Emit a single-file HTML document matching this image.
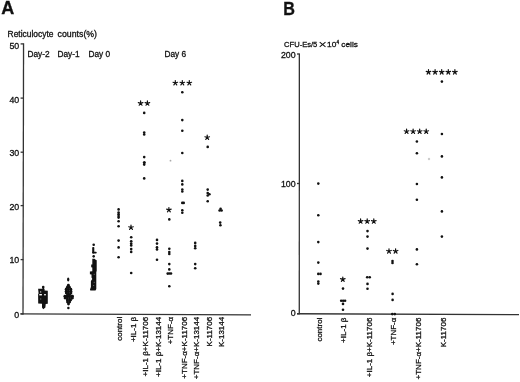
<!DOCTYPE html>
<html><head><meta charset="utf-8"><style>
html,body{margin:0;padding:0;background:#fff;}
body{width:520px;height:382px;overflow:hidden;}
svg{display:block;filter:grayscale(1);font-family:"Liberation Sans",sans-serif;fill:#111;}
text{stroke:#111;stroke-width:0.3px;}
</style></head><body>
<svg width="520" height="382" viewBox="0 0 520 382">
<rect width="520" height="382" fill="#fff"/>
<text x="1.2" y="13.8" font-size="18" text-anchor="start" font-weight="bold">A</text>
<text x="7.6" y="36.7" font-size="8.6" textLength="45.8" lengthAdjust="spacingAndGlyphs">Reticulocyte</text>
<text x="57.6" y="36.7" font-size="8.6" textLength="39.4" lengthAdjust="spacingAndGlyphs">counts(%)</text>
<line x1="23.55" y1="43.2" x2="23.0" y2="314.6" stroke="#333" stroke-width="1.3"/>
<line x1="20.4" y1="313.9" x2="251" y2="314.8" stroke="#333" stroke-width="1.3"/>
<line x1="20.6" y1="313.9" x2="23.4" y2="313.9" stroke="#333" stroke-width="1.3"/>
<text x="19.2" y="317.5" font-size="8.8" text-anchor="end" >0</text>
<line x1="20.6" y1="259.6" x2="23.4" y2="259.6" stroke="#333" stroke-width="1.3"/>
<text x="19.2" y="263.3" font-size="8.8" text-anchor="end" >10</text>
<line x1="20.6" y1="205.6" x2="23.4" y2="205.6" stroke="#333" stroke-width="1.3"/>
<text x="19.2" y="209.5" font-size="8.8" text-anchor="end" >20</text>
<line x1="20.6" y1="152.2" x2="23.4" y2="152.2" stroke="#333" stroke-width="1.3"/>
<text x="19.2" y="156.2" font-size="8.8" text-anchor="end" >30</text>
<line x1="20.6" y1="98.1" x2="23.4" y2="98.1" stroke="#333" stroke-width="1.3"/>
<text x="19.2" y="102.7" font-size="8.8" text-anchor="end" >40</text>
<line x1="20.6" y1="43.9" x2="23.4" y2="43.9" stroke="#333" stroke-width="1.3"/>
<text x="19.2" y="48.5" font-size="8.8" text-anchor="end" >50</text>
<text x="27.5" y="57" font-size="8.3" text-anchor="start" >Day-2</text>
<text x="57.5" y="57" font-size="8.3" text-anchor="start" >Day-1</text>
<text x="88.5" y="57" font-size="8.3" text-anchor="start" >Day 0</text>
<text x="164.5" y="57" font-size="8.3" text-anchor="start" >Day 6</text>
<text transform="translate(122.1,316.8) rotate(-90)" font-size="8" text-anchor="end">control</text>
<text transform="translate(135.5,316.8) rotate(-90)" font-size="8" text-anchor="end">+IL-1 β</text>
<text transform="translate(148.1,316.8) rotate(-90)" font-size="8" text-anchor="end">+IL-1 β+K-11706</text>
<text transform="translate(160.9,316.8) rotate(-90)" font-size="8" text-anchor="end">+IL-1 β+K-13144</text>
<text transform="translate(173.4,316.8) rotate(-90)" font-size="8" text-anchor="end">+TNF-α</text>
<text transform="translate(186.5,316.8) rotate(-90)" font-size="8" text-anchor="end">+TNF-α+K-11706</text>
<text transform="translate(199.4,316.8) rotate(-90)" font-size="8" text-anchor="end">+TNF-α+K-13144</text>
<text transform="translate(212.3,316.8) rotate(-90)" font-size="8" text-anchor="end">K-11706</text>
<text transform="translate(224.0,316.8) rotate(-90)" font-size="8" text-anchor="end">K-13144</text>
<g id="clusters">
<circle cx="43.2" cy="287.0" r="1.3"/>
<rect x="42.4" y="287" width="1.7" height="2.5"/>
<polygon points="38.1,288.7 44.5,288.7 44.6,290.4 47.8,290.7 47.8,303.8 45.7,304 45.4,307.5 43.2,309.3 42,307.5 42,303.7 38.2,303.5 38.1,294 38.6,293.5"/>
<rect x="39.3" y="294" width="2.6" height="1.4" fill="#fff"/>
<rect x="44.2" y="294" width="1.6" height="1.4" fill="#fff"/>
<circle cx="40.7" cy="291.9" r="0.6" fill="#fff"/>
<circle cx="40.7" cy="299" r="0.7" fill="#666"/>
<ellipse cx="68.2" cy="279.6" rx="1.15" ry="2"/>
<circle cx="68.4" cy="285.2" r="1.45"/>
<circle cx="67.4" cy="287.3" r="1.45"/>
<circle cx="69.4" cy="287.3" r="1.45"/>
<circle cx="66.2" cy="289.3" r="1.45"/>
<circle cx="68.4" cy="289.3" r="1.45"/>
<circle cx="70.8" cy="289.3" r="1.45"/>
<circle cx="66.2" cy="291.3" r="1.45"/>
<circle cx="68.4" cy="291.3" r="1.45"/>
<circle cx="70.9" cy="291.3" r="1.45"/>
<circle cx="66.3" cy="293.0" r="1.45"/>
<circle cx="68.4" cy="293.0" r="1.45"/>
<circle cx="70.9" cy="293.0" r="1.45"/>
<circle cx="67.6" cy="294.6" r="1.45"/>
<circle cx="69.6" cy="294.6" r="1.45"/>
<circle cx="64.9" cy="296.2" r="1.45"/>
<circle cx="67.1" cy="296.2" r="1.45"/>
<circle cx="69.3" cy="296.2" r="1.45"/>
<circle cx="71.5" cy="296.2" r="1.45"/>
<circle cx="72.5" cy="296.2" r="1.45"/>
<circle cx="65.1" cy="298.1" r="1.45"/>
<circle cx="67.3" cy="298.1" r="1.45"/>
<circle cx="69.5" cy="298.1" r="1.45"/>
<circle cx="71.7" cy="298.1" r="1.45"/>
<circle cx="72.4" cy="298.1" r="1.45"/>
<circle cx="67.3" cy="300.1" r="1.45"/>
<circle cx="69.4" cy="300.1" r="1.45"/>
<circle cx="70.6" cy="300.1" r="1.45"/>
<circle cx="67.5" cy="302.0" r="1.45"/>
<circle cx="69.6" cy="302.0" r="1.45"/>
<circle cx="68.5" cy="304.0" r="1.45"/>
<circle cx="68.4" cy="308.1" r="1.25"/>
<circle cx="93.7" cy="244.7" r="1.3"/>
<rect x="92.2" y="247" width="2.1" height="6.5" rx="0.8"/>
<rect x="92.2" y="251.7" width="4.5" height="1.8" rx="0.8"/>
<ellipse cx="93.7" cy="256.3" rx="1.25" ry="1.4"/>
<polygon points="92.3,258.8 94.5,258.8 95.3,259.6 96.7,260.2 96.7,271 96.3,272 96.3,289 95.5,290.6 90.3,290.6 90,289.5 90.9,287 90.9,281 91.6,280 92.3,279 91.5,277.5 91.5,274.5 89.9,274.2 89.9,271.6 92.3,271.2 92.3,267.4 91.2,267.2 91.2,264.6 92.3,264.4"/>
<circle cx="94.2" cy="274.3" r="0.5" fill="#888"/>
<circle cx="94.2" cy="282.3" r="0.5" fill="#888"/>
<circle cx="93.7" cy="285.6" r="0.5" fill="#888"/>
</g>
<circle cx="118.6" cy="209.4" r="1.3"/>
<circle cx="118.6" cy="212.6" r="1.3"/>
<circle cx="118.6" cy="214.3" r="1.3"/>
<circle cx="118.6" cy="216.0" r="1.3"/>
<circle cx="118.6" cy="217.6" r="1.3"/>
<circle cx="118.6" cy="221.3" r="1.3"/>
<circle cx="118.6" cy="226.3" r="1.3"/>
<circle cx="118.6" cy="240.6" r="1.3"/>
<circle cx="118.6" cy="247.4" r="1.3"/>
<circle cx="118.6" cy="257.3" r="1.3"/>
<circle cx="131.2" cy="237.3" r="1.3"/>
<circle cx="131.2" cy="241.2" r="1.3"/>
<circle cx="131.2" cy="243.6" r="1.3"/>
<circle cx="131.2" cy="245.4" r="1.3"/>
<circle cx="131.2" cy="249.1" r="1.3"/>
<circle cx="131.2" cy="251.9" r="1.3"/>
<circle cx="131.2" cy="273.0" r="1.3"/>
<path d="M131.00,227.50L131.00,225.10M131.00,227.50L133.28,226.76M131.00,227.50L132.41,229.44M131.00,227.50L129.59,229.44M131.00,227.50L128.72,226.76" stroke="#111" stroke-width="1.2" stroke-linecap="round" fill="none"/>
<circle cx="131.00" cy="227.50" r="0.95"/>
<circle cx="144.2" cy="112.9" r="1.3"/>
<circle cx="144.2" cy="132.6" r="1.3"/>
<circle cx="144.2" cy="134.5" r="1.3"/>
<circle cx="144.2" cy="157.1" r="1.3"/>
<circle cx="144.2" cy="164.6" r="1.3"/>
<circle cx="144.2" cy="178.4" r="1.3"/>
<circle cx="144.3" cy="162.6" r="1.5"/>
<path d="M140.60,103.30L140.60,100.90M140.60,103.30L142.88,102.56M140.60,103.30L142.01,105.24M140.60,103.30L139.19,105.24M140.60,103.30L138.32,102.56" stroke="#111" stroke-width="1.2" stroke-linecap="round" fill="none"/>
<circle cx="140.60" cy="103.30" r="0.95"/>
<path d="M147.40,103.30L147.40,100.90M147.40,103.30L149.68,102.56M147.40,103.30L148.81,105.24M147.40,103.30L145.99,105.24M147.40,103.30L145.12,102.56" stroke="#111" stroke-width="1.2" stroke-linecap="round" fill="none"/>
<circle cx="147.40" cy="103.30" r="0.95"/>
<circle cx="157.0" cy="239.9" r="1.3"/>
<circle cx="157.0" cy="243.6" r="1.3"/>
<circle cx="157.0" cy="247.2" r="1.3"/>
<circle cx="157.0" cy="249.4" r="1.3"/>
<circle cx="157.0" cy="259.7" r="1.3"/>
<circle cx="169.3" cy="219.4" r="1.3"/>
<circle cx="169.3" cy="248.7" r="1.3"/>
<circle cx="169.3" cy="252.0" r="1.3"/>
<circle cx="169.3" cy="254.0" r="1.3"/>
<circle cx="169.3" cy="264.1" r="1.3"/>
<circle cx="169.3" cy="269.4" r="1.3"/>
<circle cx="169.3" cy="273.5" r="1.3"/>
<circle cx="169.3" cy="286.3" r="1.3"/>
<circle cx="167.7" cy="273.6" r="1.3"/>
<circle cx="171.0" cy="273.5" r="1.3"/>
<path d="M168.90,209.90L168.90,207.50M168.90,209.90L171.18,209.16M168.90,209.90L170.31,211.84M168.90,209.90L167.49,211.84M168.90,209.90L166.62,209.16" stroke="#111" stroke-width="1.2" stroke-linecap="round" fill="none"/>
<circle cx="168.90" cy="209.90" r="0.95"/>
<circle cx="182.3" cy="92.2" r="1.3"/>
<circle cx="182.3" cy="120.1" r="1.3"/>
<circle cx="182.3" cy="130.8" r="1.3"/>
<circle cx="182.3" cy="153.0" r="1.3"/>
<circle cx="182.3" cy="180.9" r="1.3"/>
<circle cx="182.3" cy="184.4" r="1.3"/>
<circle cx="182.3" cy="189.5" r="1.3"/>
<circle cx="182.3" cy="191.5" r="1.3"/>
<circle cx="182.3" cy="210.2" r="1.3"/>
<circle cx="182.3" cy="212.8" r="1.3"/>
<circle cx="182.3" cy="202.9" r="1.3"/>
<circle cx="183.7" cy="202.9" r="1.3"/>
<path d="M175.30,83.00L175.30,80.60M175.30,83.00L177.58,82.26M175.30,83.00L176.71,84.94M175.30,83.00L173.89,84.94M175.30,83.00L173.02,82.26" stroke="#111" stroke-width="1.2" stroke-linecap="round" fill="none"/>
<circle cx="175.30" cy="83.00" r="0.95"/>
<path d="M182.30,83.00L182.30,80.60M182.30,83.00L184.58,82.26M182.30,83.00L183.71,84.94M182.30,83.00L180.89,84.94M182.30,83.00L180.02,82.26" stroke="#111" stroke-width="1.2" stroke-linecap="round" fill="none"/>
<circle cx="182.30" cy="83.00" r="0.95"/>
<path d="M189.30,83.00L189.30,80.60M189.30,83.00L191.58,82.26M189.30,83.00L190.71,84.94M189.30,83.00L187.89,84.94M189.30,83.00L187.02,82.26" stroke="#111" stroke-width="1.2" stroke-linecap="round" fill="none"/>
<circle cx="189.30" cy="83.00" r="0.95"/>
<circle cx="195.2" cy="242.9" r="1.3"/>
<circle cx="195.2" cy="245.9" r="1.3"/>
<circle cx="195.2" cy="248.2" r="1.3"/>
<circle cx="195.2" cy="264.1" r="1.3"/>
<circle cx="195.2" cy="268.2" r="1.3"/>
<circle cx="207.7" cy="146.9" r="1.3"/>
<circle cx="207.7" cy="189.6" r="1.3"/>
<circle cx="207.7" cy="193.0" r="1.3"/>
<circle cx="207.7" cy="195.5" r="1.3"/>
<circle cx="207.7" cy="201.3" r="1.3"/>
<circle cx="209.4" cy="194.2" r="1.3"/>
<path d="M207.20,137.50L207.20,135.10M207.20,137.50L209.48,136.76M207.20,137.50L208.61,139.44M207.20,137.50L205.79,139.44M207.20,137.50L204.92,136.76" stroke="#111" stroke-width="1.2" stroke-linecap="round" fill="none"/>
<circle cx="207.20" cy="137.50" r="0.95"/>
<circle cx="219.6" cy="210.5" r="1.3"/>
<circle cx="221.6" cy="210.5" r="1.3"/>
<circle cx="220.6" cy="208.8" r="1.3"/>
<circle cx="220.2" cy="222.6" r="1.3"/>
<circle cx="220.4" cy="225.2" r="1.3"/>
<text transform="translate(283.2,14.5) scale(0.92,1)" font-size="17.6" font-weight="bold">B</text>
<text x="284.1" y="47" font-size="8.1" textLength="33.2" lengthAdjust="spacingAndGlyphs">CFU-Es/5</text>
<path d="M319.7,42.2L325.5,46.8M325.5,42.2L319.7,46.8" stroke="#111" stroke-width="1.05" fill="none"/>
<text x="327" y="47" font-size="8.1" textLength="9.3" lengthAdjust="spacingAndGlyphs">10</text>
<text x="336.6" y="43.8" font-size="4.6">4</text>
<text x="341.3" y="47" font-size="8.1" textLength="16.6" lengthAdjust="spacingAndGlyphs">cells</text>
<line x1="299.35" y1="53.4" x2="299.3" y2="314.2" stroke="#333" stroke-width="1.3"/>
<line x1="297" y1="313.75" x2="519" y2="314.6" stroke="#333" stroke-width="1.3"/>
<line x1="297.0" y1="54" x2="299.4" y2="54" stroke="#333" stroke-width="1.3"/>
<text x="295.6" y="57.5" font-size="8.8" text-anchor="end" >200</text>
<line x1="297.0" y1="183.5" x2="299.4" y2="183.5" stroke="#333" stroke-width="1.3"/>
<text x="295.6" y="187.1" font-size="8.8" text-anchor="end" >100</text>
<line x1="297.0" y1="313.75" x2="299.4" y2="313.75" stroke="#333" stroke-width="1.3"/>
<text x="295.6" y="315.7" font-size="8.8" text-anchor="end" >0</text>
<text transform="translate(322.2,317.6) rotate(-90)" font-size="8" text-anchor="end">control</text>
<text transform="translate(346.0,317.6) rotate(-90)" font-size="8" text-anchor="end">+IL-1 β</text>
<text transform="translate(371.8,317.6) rotate(-90)" font-size="8" text-anchor="end">+IL-1 β+K-11706</text>
<text transform="translate(396.2,317.6) rotate(-90)" font-size="8" text-anchor="end">+TNF-α</text>
<text transform="translate(421.2,317.6) rotate(-90)" font-size="8" text-anchor="end">+TNF-α+K-11706</text>
<text transform="translate(446.1,317.6) rotate(-90)" font-size="8" text-anchor="end">K-11706</text>
<circle cx="318.3" cy="183.6" r="1.3"/>
<circle cx="318.3" cy="215.2" r="1.3"/>
<circle cx="318.3" cy="242.1" r="1.3"/>
<circle cx="318.3" cy="262.6" r="1.3"/>
<circle cx="318.3" cy="281.5" r="1.3"/>
<circle cx="318.3" cy="283.6" r="1.3"/>
<circle cx="318.3" cy="273.9" r="1.3"/>
<circle cx="320.5" cy="273.9" r="1.3"/>
<path d="M342.80,279.40L342.80,277.00M342.80,279.40L345.08,278.66M342.80,279.40L344.21,281.34M342.80,279.40L341.39,281.34M342.80,279.40L340.52,278.66" stroke="#111" stroke-width="1.2" stroke-linecap="round" fill="none"/>
<circle cx="342.80" cy="279.40" r="0.95"/>
<circle cx="343.0" cy="288.6" r="1.3"/>
<circle cx="343.0" cy="303.9" r="1.3"/>
<circle cx="343.0" cy="309.7" r="1.3"/>
<circle cx="341.2" cy="300.8" r="1.3"/>
<circle cx="343.2" cy="300.8" r="1.3"/>
<circle cx="345.1" cy="300.8" r="1.3"/>
<path d="M360.60,221.30L360.60,218.90M360.60,221.30L362.88,220.56M360.60,221.30L362.01,223.24M360.60,221.30L359.19,223.24M360.60,221.30L358.32,220.56" stroke="#111" stroke-width="1.2" stroke-linecap="round" fill="none"/>
<circle cx="360.60" cy="221.30" r="0.95"/>
<path d="M367.20,221.30L367.20,218.90M367.20,221.30L369.48,220.56M367.20,221.30L368.61,223.24M367.20,221.30L365.79,223.24M367.20,221.30L364.92,220.56" stroke="#111" stroke-width="1.2" stroke-linecap="round" fill="none"/>
<circle cx="367.20" cy="221.30" r="0.95"/>
<path d="M373.80,221.30L373.80,218.90M373.80,221.30L376.08,220.56M373.80,221.30L375.21,223.24M373.80,221.30L372.39,223.24M373.80,221.30L371.52,220.56" stroke="#111" stroke-width="1.2" stroke-linecap="round" fill="none"/>
<circle cx="373.80" cy="221.30" r="0.95"/>
<circle cx="367.5" cy="231.1" r="1.3"/>
<circle cx="367.5" cy="236.6" r="1.3"/>
<circle cx="367.5" cy="248.6" r="1.3"/>
<circle cx="367.5" cy="283.9" r="1.3"/>
<circle cx="367.5" cy="288.7" r="1.3"/>
<circle cx="367.2" cy="277.2" r="1.3"/>
<circle cx="369.7" cy="277.2" r="1.3"/>
<path d="M389.00,251.20L389.00,248.80M389.00,251.20L391.28,250.46M389.00,251.20L390.41,253.14M389.00,251.20L387.59,253.14M389.00,251.20L386.72,250.46" stroke="#111" stroke-width="1.2" stroke-linecap="round" fill="none"/>
<circle cx="389.00" cy="251.20" r="0.95"/>
<path d="M395.60,251.20L395.60,248.80M395.60,251.20L397.88,250.46M395.60,251.20L397.01,253.14M395.60,251.20L394.19,253.14M395.60,251.20L393.32,250.46" stroke="#111" stroke-width="1.2" stroke-linecap="round" fill="none"/>
<circle cx="395.60" cy="251.20" r="0.95"/>
<circle cx="392.5" cy="261.0" r="1.3"/>
<circle cx="392.5" cy="263.0" r="1.3"/>
<circle cx="392.6" cy="293.9" r="1.3"/>
<circle cx="392.6" cy="299.9" r="1.3"/>
<circle cx="392.3" cy="314.1" r="1.3"/>
<circle cx="394.8" cy="314.1" r="1.3"/>
<path d="M406.57,131.50L406.57,129.10M406.57,131.50L408.86,130.76M406.57,131.50L407.99,133.44M406.57,131.50L405.16,133.44M406.57,131.50L404.29,130.76" stroke="#111" stroke-width="1.2" stroke-linecap="round" fill="none"/>
<circle cx="406.57" cy="131.50" r="0.95"/>
<path d="M413.12,131.50L413.12,129.10M413.12,131.50L415.41,130.76M413.12,131.50L414.54,133.44M413.12,131.50L411.71,133.44M413.12,131.50L410.84,130.76" stroke="#111" stroke-width="1.2" stroke-linecap="round" fill="none"/>
<circle cx="413.12" cy="131.50" r="0.95"/>
<path d="M419.68,131.50L419.68,129.10M419.68,131.50L421.96,130.76M419.68,131.50L421.09,133.44M419.68,131.50L418.26,133.44M419.68,131.50L417.39,130.76" stroke="#111" stroke-width="1.2" stroke-linecap="round" fill="none"/>
<circle cx="419.68" cy="131.50" r="0.95"/>
<path d="M426.22,131.50L426.22,129.10M426.22,131.50L428.51,130.76M426.22,131.50L427.64,133.44M426.22,131.50L424.81,133.44M426.22,131.50L423.94,130.76" stroke="#111" stroke-width="1.2" stroke-linecap="round" fill="none"/>
<circle cx="426.22" cy="131.50" r="0.95"/>
<circle cx="416.9" cy="141.5" r="1.3"/>
<circle cx="416.9" cy="153.2" r="1.3"/>
<circle cx="416.9" cy="184.0" r="1.3"/>
<circle cx="416.9" cy="199.7" r="1.3"/>
<circle cx="416.9" cy="249.4" r="1.3"/>
<circle cx="416.9" cy="264.3" r="1.3"/>
<circle cx="429" cy="159" r="1.2" fill="#ccc"/>
<circle cx="170.5" cy="160.7" r="0.9" fill="#aaa"/>
<path d="M428.50,72.10L428.50,69.70M428.50,72.10L430.78,71.36M428.50,72.10L429.91,74.04M428.50,72.10L427.09,74.04M428.50,72.10L426.22,71.36" stroke="#111" stroke-width="1.2" stroke-linecap="round" fill="none"/>
<circle cx="428.50" cy="72.10" r="0.95"/>
<path d="M435.10,72.10L435.10,69.70M435.10,72.10L437.38,71.36M435.10,72.10L436.51,74.04M435.10,72.10L433.69,74.04M435.10,72.10L432.82,71.36" stroke="#111" stroke-width="1.2" stroke-linecap="round" fill="none"/>
<circle cx="435.10" cy="72.10" r="0.95"/>
<path d="M441.70,72.10L441.70,69.70M441.70,72.10L443.98,71.36M441.70,72.10L443.11,74.04M441.70,72.10L440.29,74.04M441.70,72.10L439.42,71.36" stroke="#111" stroke-width="1.2" stroke-linecap="round" fill="none"/>
<circle cx="441.70" cy="72.10" r="0.95"/>
<path d="M448.30,72.10L448.30,69.70M448.30,72.10L450.58,71.36M448.30,72.10L449.71,74.04M448.30,72.10L446.89,74.04M448.30,72.10L446.02,71.36" stroke="#111" stroke-width="1.2" stroke-linecap="round" fill="none"/>
<circle cx="448.30" cy="72.10" r="0.95"/>
<path d="M454.90,72.10L454.90,69.70M454.90,72.10L457.18,71.36M454.90,72.10L456.31,74.04M454.90,72.10L453.49,74.04M454.90,72.10L452.62,71.36" stroke="#111" stroke-width="1.2" stroke-linecap="round" fill="none"/>
<circle cx="454.90" cy="72.10" r="0.95"/>
<circle cx="441.9" cy="81.6" r="1.3"/>
<circle cx="441.9" cy="134.0" r="1.3"/>
<circle cx="441.9" cy="156.4" r="1.3"/>
<circle cx="441.9" cy="177.4" r="1.3"/>
<circle cx="441.9" cy="211.4" r="1.3"/>
<circle cx="441.9" cy="236.6" r="1.3"/>
</svg>
</body></html>
